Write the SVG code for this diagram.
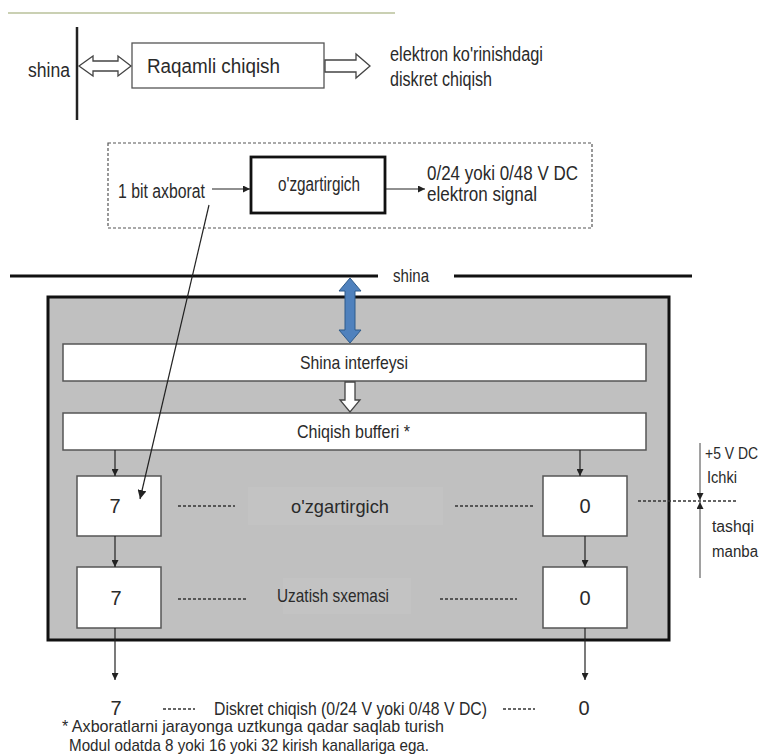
<svg xmlns="http://www.w3.org/2000/svg" width="765" height="755" viewBox="0 0 765 755">
<style>
text{font-family:"Liberation Sans",Arial,sans-serif;fill:#2a2a2a;}
.t20{font-size:20px;}
.t19{font-size:19px;}
.t17{font-size:17px;}
.t16{font-size:16px;}
.mid{text-anchor:middle;}
.box{fill:#fff;stroke:#555;stroke-width:1.5;}
.thin{stroke:#222;stroke-width:1.2;fill:none;}
.dots{stroke:#333;stroke-width:1.6;stroke-dasharray:3,2;fill:none;}
.hollow{fill:#fff;stroke:#444;stroke-width:1.3;}
</style>
<defs>
<marker id="ah" viewBox="0 0 10 10" refX="10" refY="5" markerWidth="7" markerHeight="7" orient="auto" markerUnits="userSpaceOnUse">
<path d="M0,0 L10,5 L0,10 z" fill="#222"/>
</marker>
<marker id="ah2" viewBox="0 0 10 10" refX="10" refY="5" markerWidth="9" markerHeight="9" orient="auto" markerUnits="userSpaceOnUse">
<path d="M0,0 L10,5 L0,10 z" fill="#222"/>
</marker>
</defs>
<rect width="765" height="755" fill="#fff"/>
<line x1="8" y1="13" x2="395" y2="13" stroke="#b9c19a" stroke-width="1.5"/>

<g id="top-bus">
<line x1="77" y1="27" x2="77" y2="120" stroke="#222" stroke-width="2.5"/>
<text class="t20" x="28" y="77" textLength="42" lengthAdjust="spacingAndGlyphs">shina</text>
</g>
<g id="raqamli-chiqish">
<rect x="132" y="43" width="192" height="45" fill="#fff" stroke="#555" stroke-width="1.3"/>
<text class="t20" x="147" y="73" textLength="133" lengthAdjust="spacingAndGlyphs">Raqamli chiqish</text>
</g>
<g id="top-output-label">
<text class="t20" x="390" y="61" textLength="153" lengthAdjust="spacingAndGlyphs">elektron ko'rinishdagi</text>
<text class="t20" x="390" y="86" textLength="102" lengthAdjust="spacingAndGlyphs">diskret chiqish</text>
</g>

<g id="detail-box">
<rect x="108" y="143" width="484" height="85" fill="none" stroke="#555" stroke-width="1.2" stroke-dasharray="3,2"/>
<text class="t20" x="118" y="198" textLength="87" lengthAdjust="spacingAndGlyphs">1 bit axborat</text>
<text class="t20" x="427" y="180" textLength="151" lengthAdjust="spacingAndGlyphs">0/24 yoki 0/48 V DC</text>
<text class="t20" x="427" y="201" textLength="110" lengthAdjust="spacingAndGlyphs">elektron signal</text>
</g>
<g id="detail-converter">
<rect x="251" y="157" width="134" height="56" fill="#fff" stroke="#111" stroke-width="2.8"/>
<text class="t20" x="278" y="191" textLength="82" lengthAdjust="spacingAndGlyphs">o'zgartirgich</text>
</g>

<g id="bus-line">
<line x1="10" y1="276" x2="378" y2="276" stroke="#111" stroke-width="3"/>
<line x1="454" y1="276" x2="692" y2="276" stroke="#111" stroke-width="3"/>
<text class="t19" x="393" y="282" textLength="36" lengthAdjust="spacingAndGlyphs">shina</text>
</g>

<g id="module">
<rect x="48" y="297" width="621" height="343" fill="#c0c0c0" stroke="#111" stroke-width="3"/>
<rect x="248" y="487" width="195" height="38" fill="#c3c3c3"/>
<rect x="283" y="578" width="128" height="36" fill="#c3c3c3"/>
</g>
<g id="shina-interfeysi">
<rect class="box" x="63" y="344" width="583" height="37"/>
<text class="t19" x="300" y="369" textLength="108" lengthAdjust="spacingAndGlyphs">Shina interfeysi</text>
</g>
<g id="chiqish-bufferi">
<rect class="box" x="63" y="413" width="583" height="37"/>
<text class="t19" x="297" y="438" textLength="113" lengthAdjust="spacingAndGlyphs">Chiqish bufferi *</text>
</g>
<g id="conv-7">
<rect class="box" x="77" y="476" width="84" height="60"/>
<text class="t20 mid" x="115" y="513">7</text>
</g>
<g id="conv-0">
<rect class="box" x="543" y="476" width="84" height="60"/>
<text class="t20 mid" x="585" y="513">0</text>
</g>
<g id="conv-label">
<text class="t19" x="291" y="513" textLength="98" lengthAdjust="spacingAndGlyphs">o'zgartirgich</text>
</g>
<g id="tx-7">
<rect class="box" x="77" y="567" width="84" height="61"/>
<text class="t20 mid" x="116" y="605">7</text>
</g>
<g id="tx-0">
<rect class="box" x="543" y="567" width="84" height="61"/>
<text class="t20 mid" x="585" y="605">0</text>
</g>
<g id="tx-label">
<text class="t19" x="277" y="602" textLength="112" lengthAdjust="spacingAndGlyphs">Uzatish sxemasi</text>
</g>

<g id="power-label">
<text class="t16" x="705" y="459" textLength="53" lengthAdjust="spacingAndGlyphs">+5 V DC</text>
<text class="t16" x="707" y="483" textLength="30" lengthAdjust="spacingAndGlyphs">Ichki</text>
<text class="t16" x="712" y="532" textLength="42" lengthAdjust="spacingAndGlyphs">tashqi</text>
<text class="t16" x="712" y="557" textLength="46" lengthAdjust="spacingAndGlyphs">manba</text>
</g>

<g id="outputs">
<text class="t20 mid" x="116" y="715">7</text>
<text class="t20 mid" x="584" y="715">0</text>
<text class="t19" x="214" y="715" textLength="273" lengthAdjust="spacingAndGlyphs">Diskret chiqish (0/24 V yoki 0/48 V DC)</text>
</g>

<g id="footnote">
<text class="t17" x="62" y="732" textLength="382" lengthAdjust="spacingAndGlyphs">* Axboratlarni jarayonga uztkunga qadar saqlab turish</text>
<text class="t17" x="69" y="751" textLength="360" lengthAdjust="spacingAndGlyphs">Modul odatda 8 yoki 16 yoki 32 kirish kanallariga ega.</text>
</g>

<g id="connectors">
<polygon class="hollow" points="79,66 93,56 93,61 118,61 118,56 131,66 118,76 118,71 93,71 93,76"/>
<polygon class="hollow" points="325,60 356,60 356,54 370,66 356,78 356,72 325,72"/>
<line class="thin" x1="212" y1="189" x2="250" y2="189" marker-end="url(#ah)"/>
<line class="thin" x1="386" y1="189" x2="425" y2="189" marker-end="url(#ah)"/>
<line class="thin" x1="209" y1="205" x2="140" y2="499" marker-end="url(#ah2)" stroke-width="1"/>
<polygon points="350,278 361,291 355,291 355,330 361,330 350,343 339,330 345,330 345,291 339,291" fill="#4f81bd" stroke="#2e5a8a" stroke-width="1"/>
<polygon class="hollow" points="345,382 355,382 355,400 360,400 350,412 340,400 345,400"/>
<line class="thin" x1="115" y1="450" x2="115" y2="476" marker-end="url(#ah)"/>
<line class="thin" x1="580" y1="450" x2="580" y2="476" marker-end="url(#ah)"/>
<line class="thin" x1="115" y1="536" x2="115" y2="567" marker-end="url(#ah)"/>
<line class="thin" x1="585" y1="536" x2="585" y2="567" marker-end="url(#ah)"/>
<line class="thin" x1="115" y1="628" x2="115" y2="680" marker-end="url(#ah)"/>
<line class="thin" x1="585" y1="628" x2="585" y2="680" marker-end="url(#ah)"/>
<line class="dots" x1="178" y1="506" x2="235" y2="506"/>
<line class="dots" x1="455" y1="506" x2="535" y2="506"/>
<line class="dots" x1="178" y1="599" x2="247" y2="599"/>
<line class="dots" x1="440" y1="599" x2="517" y2="599"/>
<line class="dots" x1="638" y1="501" x2="738" y2="501"/>
<line class="dots" x1="163" y1="709" x2="195" y2="709" stroke-width="1.2"/>
<line class="dots" x1="503" y1="709" x2="535" y2="709" stroke-width="1.2"/>
<line x1="700" y1="443" x2="700" y2="500" stroke="#444" stroke-width="1" marker-end="url(#ah)"/>
<line x1="700" y1="578" x2="700" y2="502" stroke="#444" stroke-width="1" marker-end="url(#ah)"/>
</g>
</svg>
